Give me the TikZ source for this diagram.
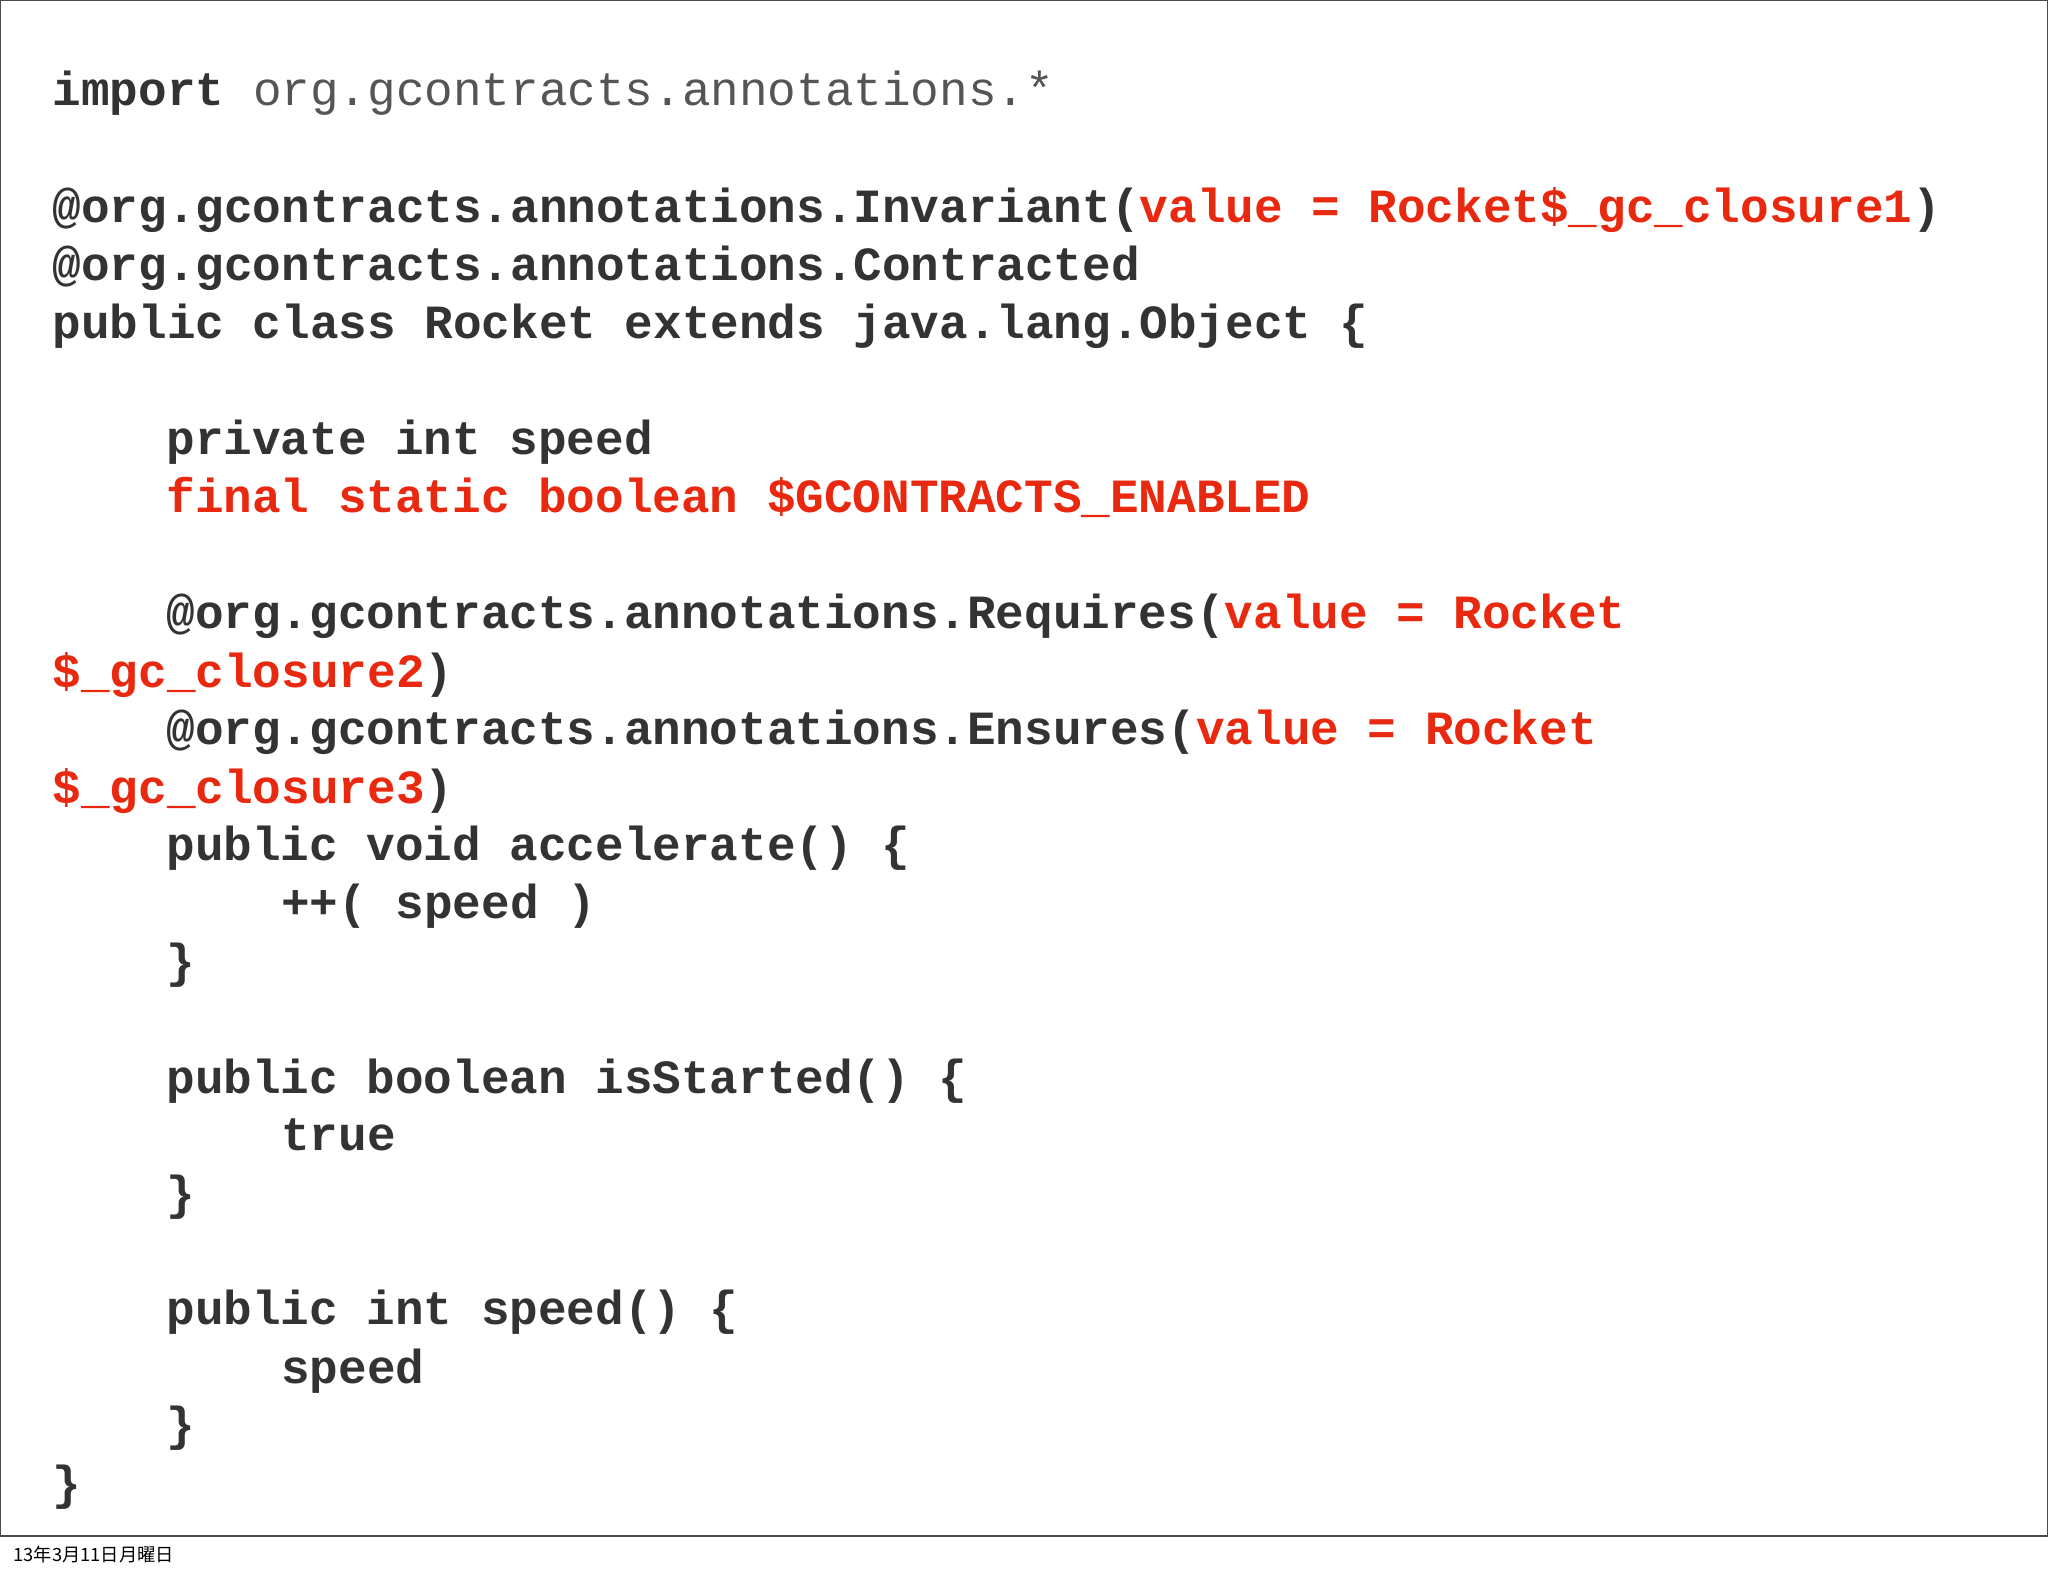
\documentclass[tikz,border=0pt]{standalone}
\usepackage{fontspec}
\setmonofont{Liberation Mono}
\newfontfamily\cjk{Noto Sans CJK JP}
\definecolor{codegray}{HTML}{333333}
\definecolor{lightgray}{HTML}{555555}
\definecolor{codered}{HTML}{E8290F}
\newcommand{\R}[1]{\textcolor{codered}{#1}}
\begin{document}
\begin{tikzpicture}[x=0.5pt,y=-0.5pt,
  code/.style={anchor=base west,inner sep=0pt,font=\ttfamily\bfseries\fontsize{18.25}{20}\selectfont,text=codegray},
  foot/.style={anchor=west,inner sep=0pt,font=\cjk\fontsize{7}{8}\selectfont}]
\useasboundingbox[fill=white] (0,0) rectangle (1568,1207);
\draw[line width=0.6pt,black!70] (0.5,0.5) rectangle (1567.5,1176);
\node[code] (l1) at (40,81) {import \textmd{\textcolor{lightgray}{org.gcontracts.annotations.*}}};
\node[code] (l2) at (40,170) {@org.gcontracts.annotations.Invariant(\R{value = Rocket\$\_gc\_closure1})};
\node[code] (l3) at (40,215) {@org.gcontracts.annotations.Contracted};
\node[code] (l4) at (40,259) {public class Rocket extends java.lang.Object \{};
\node[code] (l5) at (127,348) {private int speed};
\node[code] (l6) at (127,392) {\R{final static boolean \$GCONTRACTS\_ENABLED}};
\node[code] (l7) at (127,481) {@org.gcontracts.annotations.Requires(\R{value = Rocket}};
\node[code] (l8) at (40,526) {\R{\$\_gc\_closure2})};
\node[code] (l9) at (127,570) {@org.gcontracts.annotations.Ensures(\R{value = Rocket}};
\node[code] (l10) at (40,615) {\R{\$\_gc\_closure3})};
\node[code] (l11) at (127,659) {public void accelerate() \{};
\node[code] (l12) at (215,703) {++( speed )};
\node[code] (l13) at (127,748) {\}};
\node[code] (l14) at (127,837) {public boolean isStarted() \{};
\node[code] (l15) at (215,881) {true};
\node[code] (l16) at (127,926) {\}};
\node[code] (l17) at (127,1014) {public int speed() \{};
\node[code] (l18) at (215,1059) {speed};
\node[code] (l19) at (127,1103) {\}};
\node[code] (l20) at (40,1148) {\}};
\node[foot] (date) at (10,1190) {13年3月11日月曜日};
\end{tikzpicture}
\end{document}
